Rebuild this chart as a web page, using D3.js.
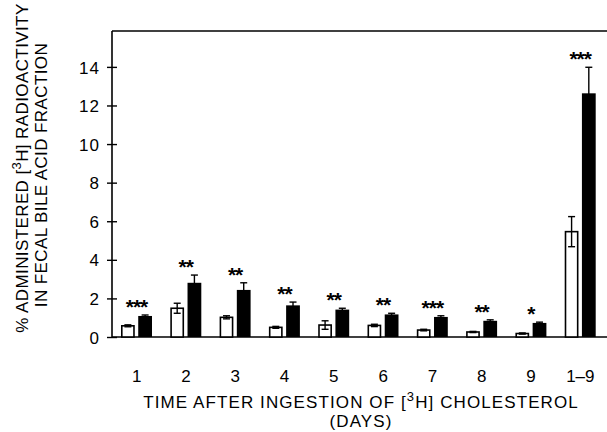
<!DOCTYPE html>
<html>
<head>
<meta charset="utf-8">
<script src="https://cdn.jsdelivr.net/npm/d3@7"></script>
<style>
body { margin:0; background:#fff; }
text { font-family:"Liberation Sans", Arial, sans-serif; fill:#000; }
</style>
</head>
<body>
<svg id="chart" width="607" height="432"></svg>
<script>
// days after ingestion
var days = ["1","2","3","4","5","6","7","8","9","1\u20139"];
// open bars (control) and filled bars
var openVals   = [0.58, 1.49, 1.02, 0.50, 0.62, 0.60, 0.36, 0.26, 0.18, 5.46];
var openErr    = [0.05, 0.26, 0.08, 0.05, 0.22, 0.06, 0.04, 0.03, 0.03, 0.78];
var filledVals = [1.09, 2.81, 2.44, 1.64, 1.42, 1.17, 1.04, 0.84, 0.73, 12.63];
var filledErr  = [0.05, 0.40, 0.37, 0.17, 0.07, 0.06, 0.06, 0.05, 0.04, 1.35];
var stars      = ["***","**","**","**","**","**","***","**","*","***"];
var yTicks = [0,2,4,6,8,10,12,14];

var svg = d3.select("#chart");
var plotL = 112, plotR = 605, plotT = 31, plotB = 337;

var x = d3.scaleBand().domain(days).range([plotL, plotR]).padding(0);
var inner = d3.scaleBand().domain(["open","filled"]).range([9, 40]).paddingInner(0.2);
var y = d3.scaleLinear().domain([0, 15.86]).range([plotB, plotT]);

var rows = days.map(function(d, i) {
  return {day:d, open:openVals[i], oe:openErr[i], filled:filledVals[i], fe:filledErr[i], star:stars[i]};
});

// frame lines
svg.append("line").attr("x1", plotL).attr("x2", 607).attr("y1", plotT).attr("y2", plotT)
   .attr("stroke","#000").attr("stroke-width",1.3);
svg.append("line").attr("x1", plotL).attr("x2", 607).attr("y1", plotB).attr("y2", plotB)
   .attr("stroke","#000").attr("stroke-width",1.6);

// y axis
var yAxis = svg.append("g").attr("transform","translate(" + plotL + ",0)")
   .call(d3.axisLeft(y).tickValues(yTicks).tickSize(5).tickPadding(7));
yAxis.select(".domain").remove();
yAxis.append("line").attr("y1", plotT).attr("y2", plotB).attr("stroke","#000").attr("stroke-width",1.6);
yAxis.selectAll(".tick line").attr("x2",-5).attr("x1",5).attr("stroke-width",1.4);
yAxis.selectAll(".tick text").attr("font-size",17).attr("font-family","Liberation Sans, Arial, sans-serif")
   .attr("letter-spacing",1).attr("dy","0.36em");

// x labels
var xAxis = svg.append("g").attr("transform","translate(0," + plotB + ")")
   .call(d3.axisBottom(x).tickSize(0).tickPadding(33));
xAxis.select(".domain").remove();
xAxis.selectAll(".tick text").attr("font-size",17).attr("font-family","Liberation Sans, Arial, sans-serif");

var groups = svg.append("g").selectAll("g").data(rows).enter().append("g")
   .attr("transform", function(d) { return "translate(" + x(d.day) + ",0)"; });

// filled bars
groups.append("rect")
   .attr("x", inner("filled")).attr("width", inner.bandwidth())
   .attr("y", function(d) { return y(d.filled); })
   .attr("height", function(d) { return plotB - y(d.filled); })
   .attr("fill","#000");

// open bars
groups.append("rect")
   .attr("x", inner("open") + 0.8).attr("width", inner.bandwidth() - 1.6)
   .attr("y", function(d) { return y(d.open); })
   .attr("height", function(d) { return plotB - y(d.open); })
   .attr("fill","#fff").attr("stroke","#000").attr("stroke-width",1.6);

// error bars
function errBar(sel, key, errKey, name) {
  var cx = inner(name) + inner.bandwidth() / 2;
  sel.append("line").attr("x1",cx).attr("x2",cx)
     .attr("y1", function(d) { return y(d[key] - d[errKey]); })
     .attr("y2", function(d) { return y(d[key] + d[errKey]); })
     .attr("stroke","#000").attr("stroke-width",1.4);
  sel.append("line").attr("x1",cx - 3.5).attr("x2",cx + 3.5)
     .attr("y1", function(d) { return y(d[key] + d[errKey]); })
     .attr("y2", function(d) { return y(d[key] + d[errKey]); })
     .attr("stroke","#000").attr("stroke-width",1.4);
  sel.append("line").attr("x1",cx - 3.5).attr("x2",cx + 3.5)
     .attr("y1", function(d) { return y(d[key] - d[errKey]); })
     .attr("y2", function(d) { return y(d[key] - d[errKey]); })
     .attr("stroke","#000").attr("stroke-width",1.4);
}
errBar(groups, "open", "oe", "open");
errBar(groups, "filled", "fe", "filled");

// significance stars
groups.append("text")
   .attr("x", 24.5)
   .attr("y", function(d) { return Math.min(y(d.open + d.oe), y(d.filled + d.fe)) - 12 + 11; })
   .attr("text-anchor","middle")
   .attr("font-size",21).attr("font-weight","bold").attr("letter-spacing",-1)
   .text(function(d) { return d.star; });

// x title
var xt = svg.append("text").attr("x", 361).attr("y", 408).attr("text-anchor","middle")
   .attr("font-size",17).attr("letter-spacing",1.1);
xt.append("tspan").text("TIME AFTER INGESTION OF [");
xt.append("tspan").attr("dy",-7).attr("font-size",13).text("3");
xt.append("tspan").attr("dy",7).text("H] CHOLESTEROL");
svg.append("text").attr("x", 361).attr("y", 427).attr("text-anchor","middle")
   .attr("font-size",17).attr("letter-spacing",1.1).text("(DAYS)");

// y title
var yt = svg.append("text").attr("transform","translate(28,168) rotate(-90)").attr("text-anchor","middle")
   .attr("font-size",17).attr("letter-spacing",0.4);
yt.append("tspan").text("% ADMINISTERED [");
yt.append("tspan").attr("dy",-7).attr("font-size",13).text("3");
yt.append("tspan").attr("dy",7).text("H] RADIOACTIVITY");
svg.append("text").attr("transform","translate(47,175) rotate(-90)").attr("text-anchor","middle")
   .attr("font-size",17).attr("letter-spacing",0.4)
   .text("IN FECAL BILE ACID FRACTION");
</script>
</body>
</html>
